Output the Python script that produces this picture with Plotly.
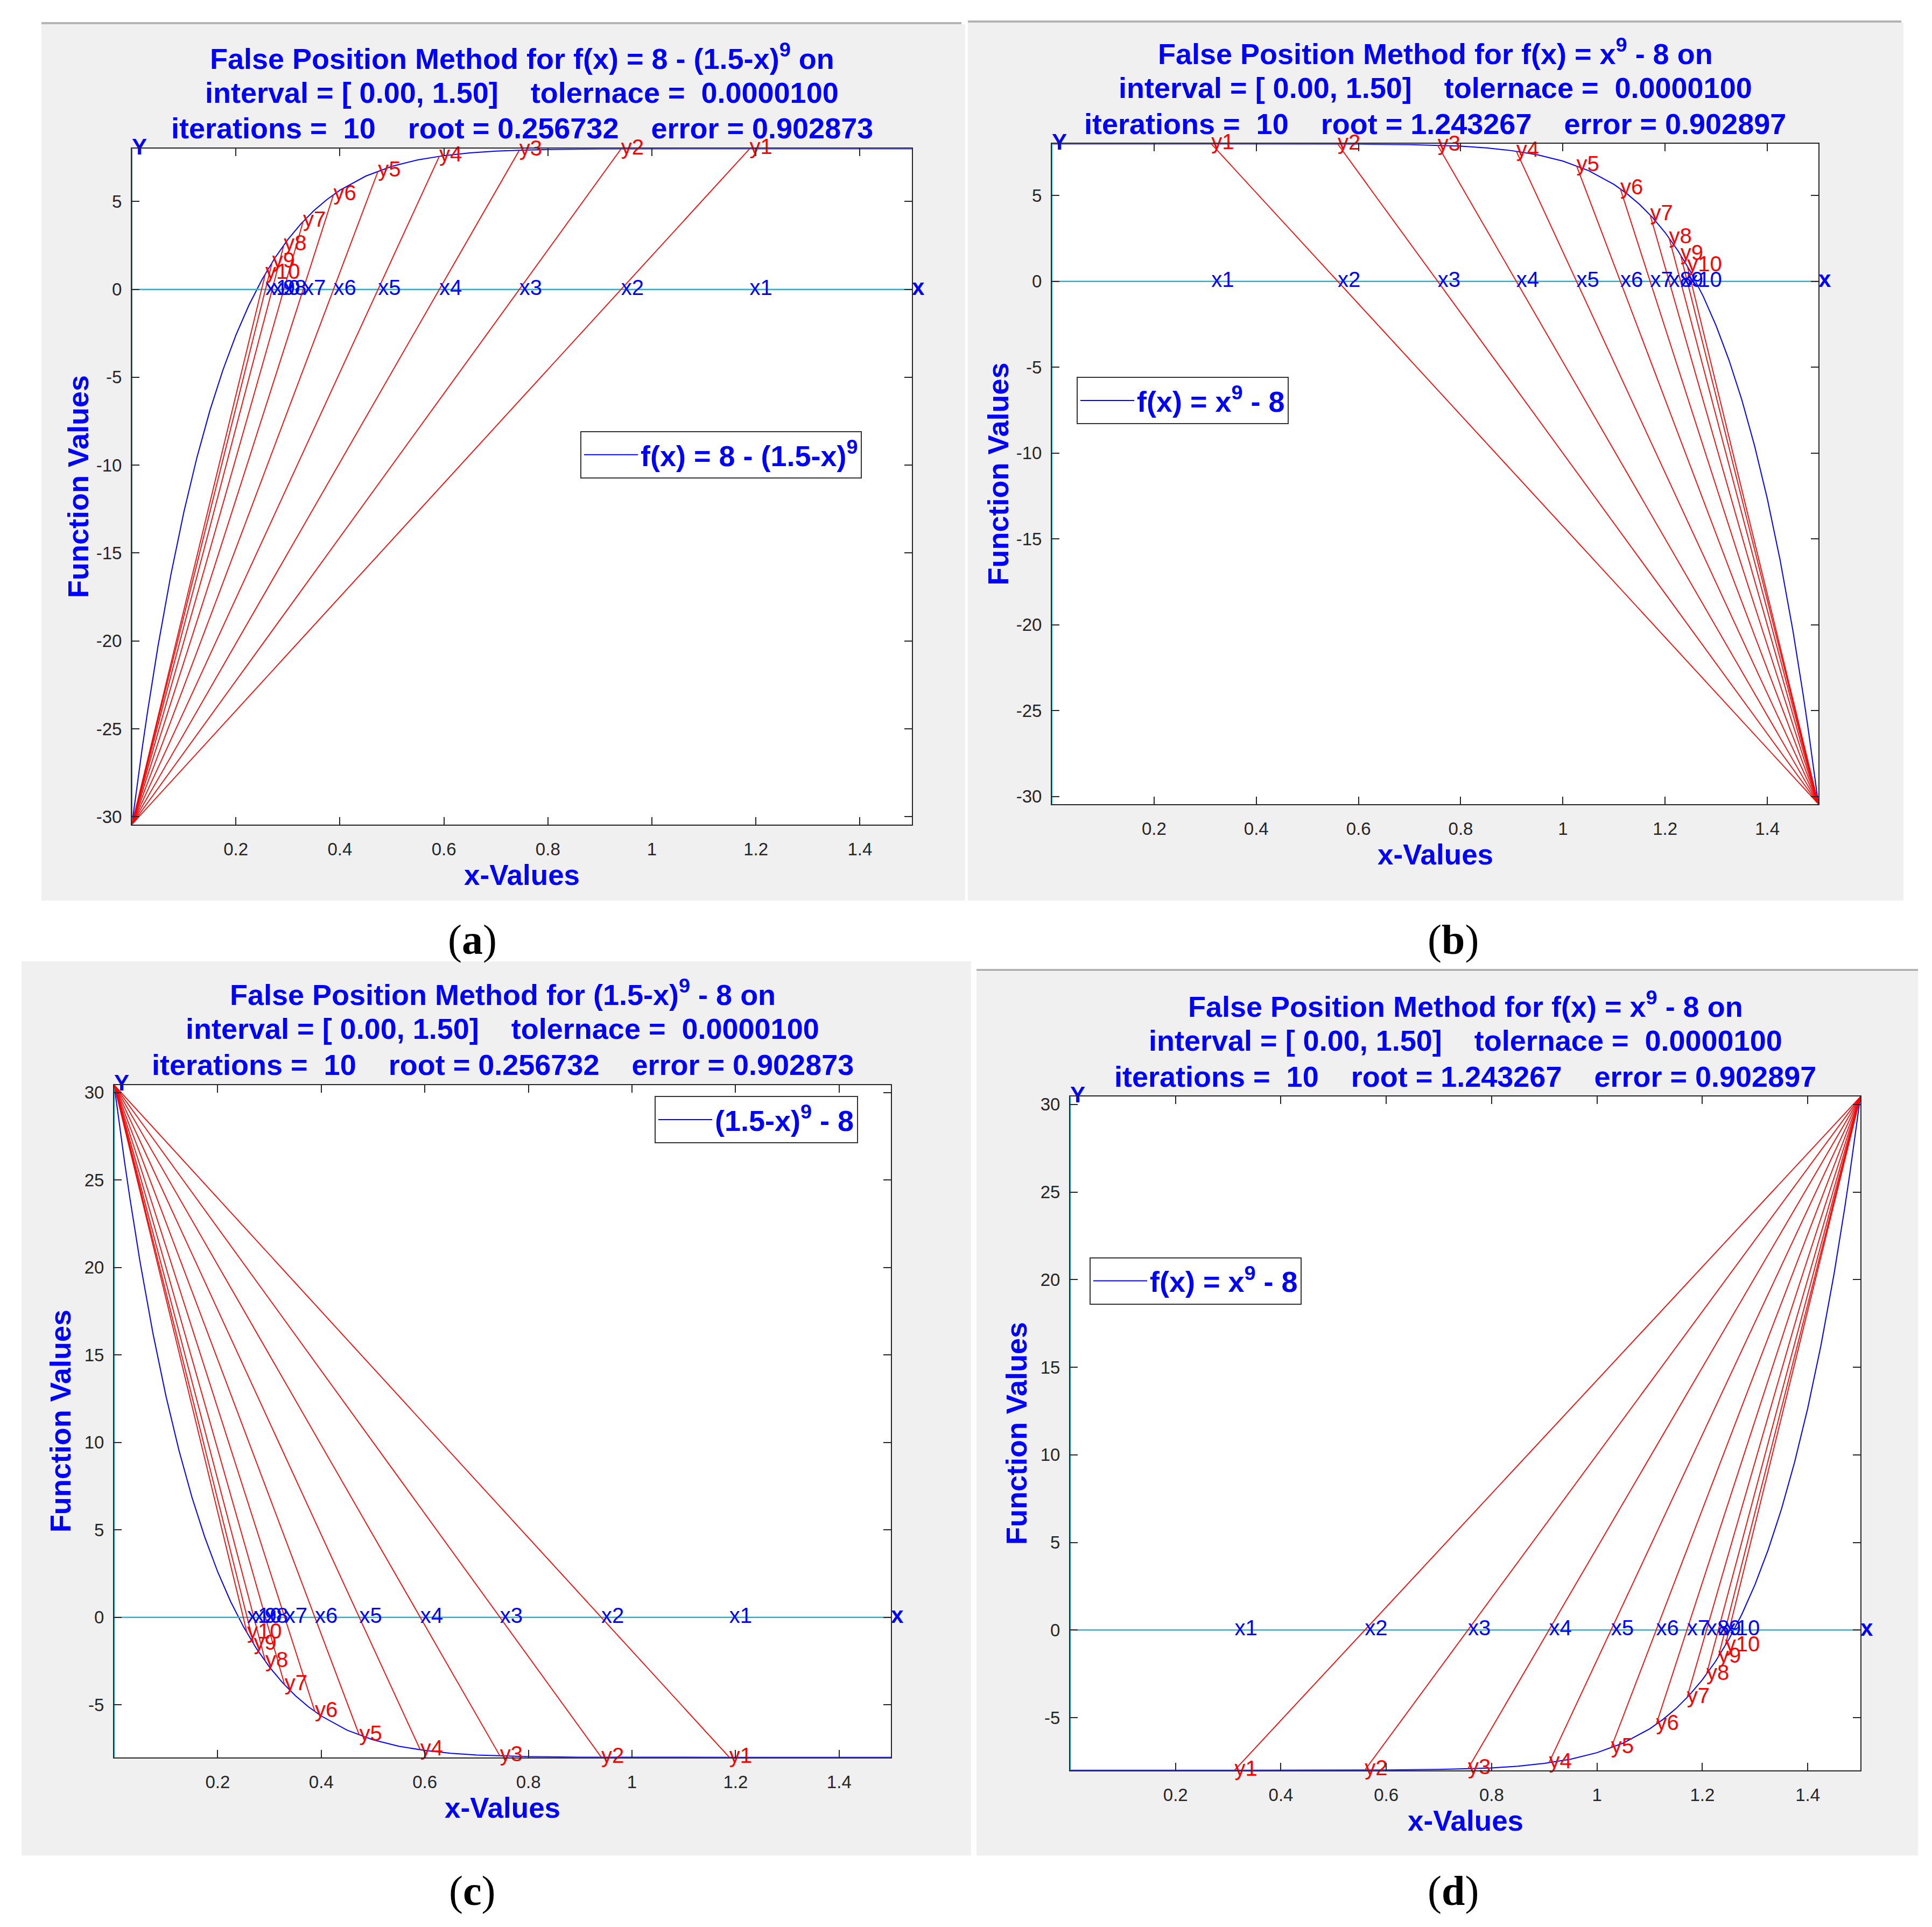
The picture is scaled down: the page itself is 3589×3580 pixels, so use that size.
import plotly.graph_objects as go

W, H = 3589, 3580
FONT = "Liberation Sans, Arial, Helvetica, sans-serif"
SERIF = "Liberation Serif, Times New Roman, serif"
BLUE = "#0000FF"
RED = "#FF0000"
CYAN = "#2FB0C4"
AXC = "#262626"
PANEL = "#F0F0F0"
NB = "\u00a0"

# ---------------- data ----------------
curve_x_left = [0, 0.01, 0.02, 0.03, 0.04, 0.05, 0.075, 0.1, 0.125, 0.15, 0.175, 0.2,
                0.225, 0.25, 0.275, 0.3, 0.325, 0.35, 0.375, 0.4, 0.45, 0.5, 0.55, 0.6,
                0.65, 0.7, 0.75, 0.8, 0.9, 1.0, 1.1, 1.2, 1.3, 1.4, 1.5]
curve_x_right = [1.5, 1.49, 1.48, 1.47, 1.46, 1.45, 1.425, 1.4, 1.375, 1.35, 1.325, 1.3,
                 1.275, 1.25, 1.225, 1.2, 1.175, 1.15, 1.125, 1.1, 1.05, 1.0, 0.95, 0.9,
                 0.85, 0.8, 0.75, 0.7, 0.6, 0.5, 0.4, 0.3, 0.2, 0.1, 0.0]
curve_y_pos = [-30.44, -28.20, -26.07, -24.05, -22.14, -20.33, -16.23, -12.66, -9.57, -6.89,
               -4.59, -2.60, -0.90, 0.55, 1.79, 2.84, 3.73, 4.48, 5.11, 5.64, 6.45, 7.00,
               7.37, 7.61, 7.77, 7.87, 7.92, 7.96, 7.99, 8.00, 8.00, 8.00, 8.00, 8.00, 8.00]
curve_y_neg = [30.44, 28.20, 26.07, 24.05, 22.14, 20.33, 16.23, 12.66, 9.57, 6.89,
               4.59, 2.60, 0.90, -0.55, -1.79, -2.84, -3.73, -4.48, -5.11, -5.64, -6.45, -7.00,
               -7.37, -7.61, -7.77, -7.87, -7.92, -7.96, -7.99, -8.00, -8.00, -8.00, -8.00, -8.00, -8.00]

iter_x_left = [1.1879, 0.9407, 0.7450, 0.5912, 0.4734, 0.3877, 0.3293, 0.2922, 0.2698, 0.2567]
iter_x_right = [0.3121, 0.5593, 0.7550, 0.9088, 1.0266, 1.1123, 1.1707, 1.2078, 1.2302, 1.2433]
iter_y_pos = [8.000, 7.995, 7.920, 7.577, 6.734, 5.393, 3.870, 2.529, 1.546, 0.903]
iter_y_neg = [-8.000, -7.995, -7.920, -7.577, -6.734, -5.393, -3.870, -2.529, -1.546, -0.903]

x_labels = ["x1", "x2", "x3", "x4", "x5", "x6", "x7", "x8", "x9", "x10"]
y_labels = ["y1", "y2", "y3", "y4", "y5", "y6", "y7", "y8", "y9", "y10"]

x_tick_vals = [0.2, 0.4, 0.6, 0.8, 1.0, 1.2, 1.4]
x_tick_text = ["0.2", "0.4", "0.6", "0.8", "1", "1.2", "1.4"]
y_ticks_low = [-30, -25, -20, -15, -10, -5, 0, 5]
y_ticks_high = [-5, 0, 5, 10, 15, 20, 25, 30]


def sp(s):
    return s.replace(" ", NB)


title_a = ["False Position Method for f(x) = 8 - (1.5-x)<sup>9</sup> on",
           "interval = [ 0.00, 1.50]    tolernace =  0.0000100",
           "iterations =  10    root = 0.256732    error = 0.902873"]
title_b = ["False Position Method for f(x) = x<sup>9</sup> - 8 on",
           "interval = [ 0.00, 1.50]    tolernace =  0.0000100",
           "iterations =  10    root = 1.243267    error = 0.902897"]
title_c = ["False Position Method for (1.5-x)<sup>9</sup> - 8 on",
           "interval = [ 0.00, 1.50]    tolernace =  0.0000100",
           "iterations =  10    root = 0.256732    error = 0.902873"]
title_d = title_b

legend_a = "f(x) = 8 - (1.5-x)<sup>9</sup>"
legend_b = "f(x) = x<sup>9</sup> - 8"
legend_c = "(1.5-x)<sup>9</sup> - 8"
legend_d = "f(x) = x<sup>9</sup> - 8"

# ---------------- layout (pixel boxes) ----------------
panels = [
    dict(letter="a", box=(237, 265, 1686, 1523), bg=(69, 33, 1785, 1665), topline=(69, 31, 1778),
         cx=curve_x_left, cy=curve_y_pos, ix=iter_x_left, iy=iter_y_pos, yt=y_ticks_low,
         title=title_a, legend=legend_a, legpos=(1070, 791), letpos=(869, 1737)),
    dict(letter="b", box=(1946, 256, 3370, 1485), bg=(1790, 30, 3528, 1665), topline=(1790, 28, 3524),
         cx=curve_x_right, cy=curve_y_pos, ix=iter_x_right, iy=iter_y_pos, yt=y_ticks_low,
         title=title_b, legend=legend_b, legpos=(1992, 690), letpos=(2691, 1737)),
    dict(letter="c", box=(204, 2008, 1647, 3260), bg=(32, 1778, 1796, 3443), topline=None,
         cx=curve_x_left, cy=curve_y_neg, ix=iter_x_left, iy=iter_y_neg, yt=y_ticks_high,
         title=title_c, legend=legend_c, legpos=(1208, 2029), letpos=(869, 3508)),
    dict(letter="d", box=(1980, 2030, 3448, 3284), bg=(1806, 1797, 3555, 3443), topline=(1806, 1794, 3555),
         cx=curve_x_right, cy=curve_y_neg, ix=iter_x_right, iy=iter_y_neg, yt=y_ticks_high,
         title=title_d, legend=legend_d, legpos=(2016, 2329), letpos=(2691, 3508)),
]


def fx(px):
    return px / W


def fy(py):
    return 1 - py / H


fig = go.Figure()
layout = dict(width=W, height=H, margin=dict(l=0, r=0, t=0, b=0), autosize=False,
              paper_bgcolor="white", plot_bgcolor="rgba(0,0,0,0)", showlegend=True,
              font=dict(family=FONT))
shapes = []
annotations = []

for i, p in enumerate(panels):
    n = "" if i == 0 else str(i + 1)
    xa, ya = "x" + n, "y" + n
    leg = "legend" + n
    x0p, y0p, x1p, y1p = p["box"]
    xmin, xmax = min(p["cx"]), max(p["cx"])
    ymin, ymax = min(p["cy"]), max(p["cy"])
    ax_x, ax_y = p["cx"][0], p["cy"][0]

    # background panel + white plot area
    b = p["bg"]
    shapes.append(dict(type="rect", xref="paper", yref="paper", x0=fx(b[0]), x1=fx(b[2]),
                       y0=fy(b[3]), y1=fy(b[1]), fillcolor=PANEL, line=dict(width=0), layer="below"))
    if p["topline"]:
        t = p["topline"]
        shapes.append(dict(type="line", xref="paper", yref="paper", x0=fx(t[0]), x1=fx(t[2]),
                           y0=fy(t[1]), y1=fy(t[1]), line=dict(color="#B4B4B4", width=4), layer="below"))
    shapes.append(dict(type="rect", xref="paper", yref="paper", x0=fx(x0p), x1=fx(x1p),
                       y0=fy(y1p), y1=fy(y0p), fillcolor="white", line=dict(width=0), layer="below"))

    # function curve
    fig.add_trace(go.Scatter(x=p["cx"], y=p["cy"], mode="lines", line=dict(color=BLUE, width=2),
                             name=p["legend"], xaxis=xa, yaxis=ya, legend=leg, cliponaxis=False))
    # axis reference lines (cyan)
    fig.add_trace(go.Scatter(x=[xmin, xmax], y=[0, 0], mode="lines", line=dict(color=CYAN, width=2.5),
                             showlegend=False, xaxis=xa, yaxis=ya, cliponaxis=False))
    fig.add_trace(go.Scatter(x=[xmin, xmin], y=[ymin, ymax], mode="lines", line=dict(color=CYAN, width=2.5),
                             showlegend=False, xaxis=xa, yaxis=ya, cliponaxis=False))
    # red secant lines
    lx, ly = [], []
    for xv, yv in zip(p["ix"], p["iy"]):
        lx += [ax_x, xv, None]
        ly += [ax_y, yv, None]
    fig.add_trace(go.Scatter(x=lx, y=ly, mode="lines", line=dict(color=RED, width=1.8),
                             showlegend=False, xaxis=xa, yaxis=ya, cliponaxis=False))
    # labels
    fig.add_trace(go.Scatter(x=p["ix"], y=[0] * len(p["ix"]), mode="text", text=x_labels,
                             textposition="middle right", textfont=dict(color=BLUE, size=40, family=FONT),
                             showlegend=False, xaxis=xa, yaxis=ya, cliponaxis=False))
    fig.add_trace(go.Scatter(x=p["ix"], y=p["iy"], mode="text", text=y_labels,
                             textposition="middle right", textfont=dict(color=RED, size=40, family=FONT),
                             showlegend=False, xaxis=xa, yaxis=ya, cliponaxis=False))
    fig.add_trace(go.Scatter(x=[xmin, xmax], y=[ymax, 0], mode="text", text=["<b>Y</b>", "<b>x</b>"],
                             textposition="middle right", textfont=dict(color=BLUE, size=42, family=FONT),
                             showlegend=False, xaxis=xa, yaxis=ya, cliponaxis=False))

    xkey = "xaxis" + n
    ykey = "yaxis" + n
    layout[xkey] = dict(domain=[fx(x0p), fx(x1p)], range=[xmin, xmax], anchor=ya,
                        tickvals=x_tick_vals, ticktext=x_tick_text, ticks="inside", ticklen=14,
                        tickwidth=2, tickcolor=AXC, showline=True, linecolor=AXC, linewidth=2,
                        mirror="ticks", showgrid=False, zeroline=False, ticklabelstandoff=16,
                        tickfont=dict(size=33, color=AXC, family=FONT))
    layout[ykey] = dict(domain=[fy(y1p), fy(y0p)], range=[ymin, ymax], anchor=xa,
                        tickvals=p["yt"], ticktext=[str(v) for v in p["yt"]], ticks="inside",
                        ticklen=14, tickwidth=2, tickcolor=AXC, showline=True, linecolor=AXC,
                        linewidth=2, mirror="ticks", showgrid=False, zeroline=False,
                        ticklabelstandoff=10, tickfont=dict(size=33, color=AXC, family=FONT))
    layout[leg] = dict(x=fx(p["legpos"][0]), y=fy(p["legpos"][1]), xanchor="left", yanchor="top",
                       bgcolor="white", bordercolor="#333333", borderwidth=2, itemwidth=100,
                       font=dict(size=54, color=BLUE, family=FONT, weight="bold"))

    # titles
    cxp = (x0p + x1p) / 2
    for k, line in enumerate(p["title"]):
        annotations.append(dict(xref="paper", yref="paper", x=fx(cxp), y=fy(y0p - 172 + 67 * k),
                                xanchor="center", yanchor="middle", showarrow=False,
                                text="<b>" + sp(line).replace(NB + "<sup>", " <sup>") + "</b>",
                                font=dict(size=54, color=BLUE, family=FONT)))
    annotations.append(dict(xref="paper", yref="paper", x=fx(cxp), y=fy(y1p + 94),
                            xanchor="center", yanchor="middle", showarrow=False,
                            text="<b>x-Values</b>", font=dict(size=53, color=BLUE, family=FONT)))
    annotations.append(dict(xref="paper", yref="paper", x=fx(x0p - 100), y=fy((y0p + y1p) / 2),
                            xanchor="center", yanchor="middle", showarrow=False, textangle=-90,
                            text="<b>Function Values</b>", font=dict(size=54, color=BLUE, family=FONT)))
    annotations.append(dict(xref="paper", yref="paper", x=fx(p["letpos"][0]), y=fy(p["letpos"][1]),
                            xanchor="center", yanchor="middle", showarrow=False,
                            text="(<b>" + p["letter"] + "</b>)", font=dict(size=78, color="black", family=SERIF)))

layout["shapes"] = shapes
layout["annotations"] = annotations
fig.update_layout(**layout)
fig.write_html("out.html")
